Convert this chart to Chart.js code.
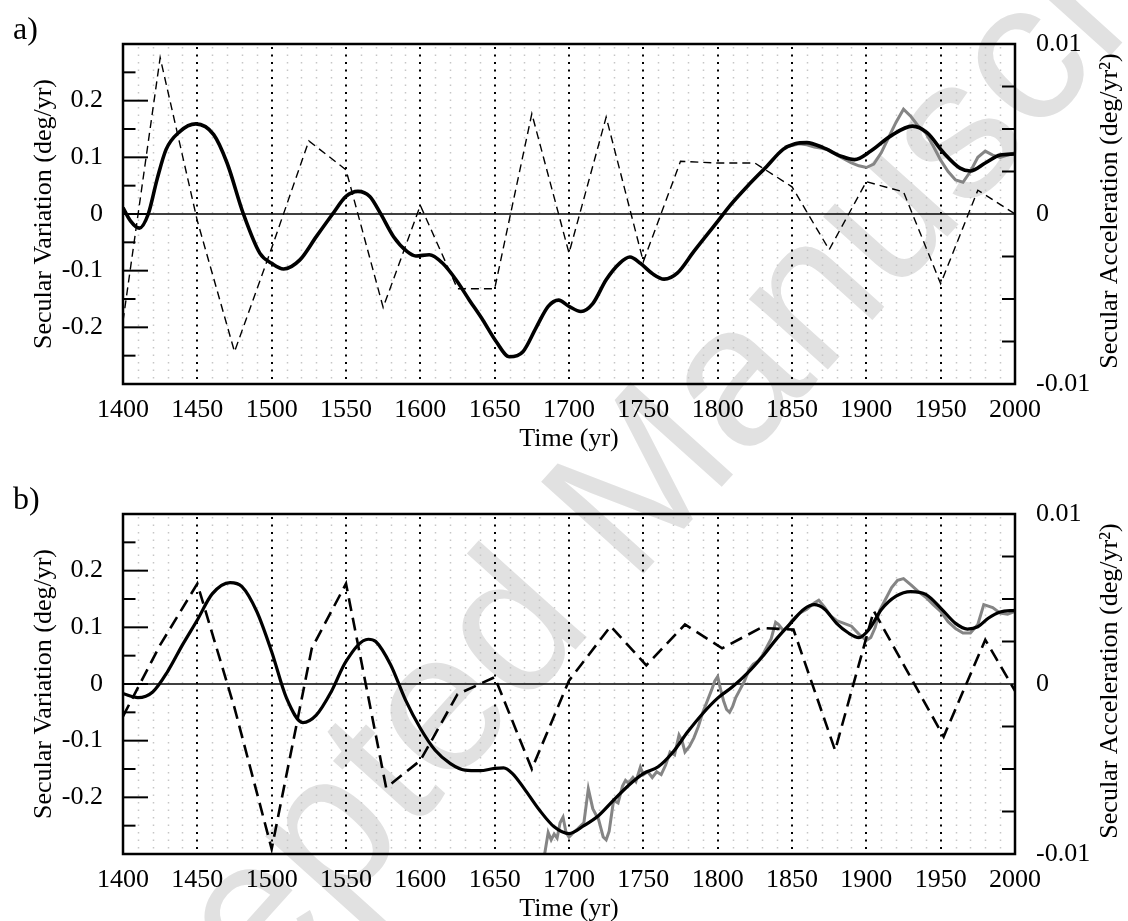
<!DOCTYPE html>
<html>
<head>
  <title>Secular Variation</title>
  <script src="https://cdn.jsdelivr.net/npm/chart.js"></script>
  <style>
    body{
        margin:0px;
        padding:0px;
        background-color:#ffffff;
        width:1128px;
        height:921px;
        overflow:hidden;
        position:relative;
    }
    #watermark{
        position:absolute;
        left:611px;
        top:507px;
        transform:translate(-50%,-50%) rotate(-48deg);
        font-family:'Liberation Sans', Arial, sans-serif;
        font-weight:normal;
        font-size:200px;
        line-height:1;
        color:#e1e1e1;
        white-space:nowrap;
        z-index:0;
    }
    canvas{
        position:absolute;
        left:0px;
        z-index:1;
    }
    #panelA{ top:0px; }
    #panelB{ top:470px; }
  </style>
</head>
<body>
  <div id="watermark">Accepted Manuscript</div>
  <canvas id="panelA" width="1128" height="470"></canvas>
  <canvas id="panelB" width="1128" height="470"></canvas>
  <script>
    // axis ticks
    var yearTicks = [1400,1450,1500,1550,1600,1650,1700,1750,1800,1850,1900,1950,2000];
    var svLabelTicks = [-0.2,-0.1,0,0.1,0.2];
    var svMinorTicks = [-0.25,-0.15,-0.05,0.05,0.15,0.25];
    var saTicks = [-0.0075,-0.005,-0.0025,0.0025,0.005,0.0075];

    // panel a) model secular variation (deg/yr)
    var aSvYears = [1400,1405,1411,1417,1423,1429,1438,1449,1461,1470,1481,1492,1500,1508,1519,1530,1541,1550,1558,1566,
                    1573,1582,1591,1597,1606,1615,1624,1633,1642,1651,1660,1669,1678,1686,1693,1700,1708,1716,1725,1734,
                    1741,1748,1756,1764,1773,1784,1800,1808,1820,1833,1844,1852,1860,1871,1883,1892,1903,1916,1931,1941,
                    1952,1963,1970,1980,1990,2000];
    var aSvValues = [0.011,-0.012,-0.025,0.0,0.062,0.114,0.145,0.159,0.140,0.090,0.0,-0.069,-0.087,-0.097,-0.081,-0.040,0.0,0.031,0.040,0.031,
                     0.002,-0.040,-0.066,-0.074,-0.072,-0.087,-0.116,-0.152,-0.187,-0.225,-0.252,-0.243,-0.200,-0.163,-0.152,-0.163,-0.172,-0.158,-0.116,-0.087,
                     -0.076,-0.087,-0.105,-0.115,-0.104,-0.066,-0.013,0.014,0.049,0.084,0.114,0.124,0.126,0.117,0.102,0.096,0.111,0.137,0.155,0.143,
                     0.108,0.081,0.076,0.090,0.104,0.106];
    // panel a) secular acceleration (deg/yr^2)
    var aSaYears = [1400,1425,1450,1475,1500,1525,1550,1575,1600,1625,1650,1675,1700,1725,1750,1775,1800,1825,1850,1875,1900,1925,1950,1975,2000];
    var aSaValues = [-0.0063,0.0092,-0.0004,-0.0081,-0.002,0.0043,0.0026,-0.0055,0.0005,-0.0044,-0.0044,0.0059,-0.0023,0.0057,-0.0028,
                     0.0031,0.003,0.003,0.0016,-0.0021,0.0019,0.0013,-0.0041,0.0014,0.0];
    // panel a) observed secular variation
    var aObsYears = [1845,1850,1855,1860,1865,1870,1875,1880,1885,1890,1895,1900,1905,1910,1915,1920,1925,1930,1935,1940,
                     1945,1950,1955,1960,1965,1970,1975,1980,1985,1990,1995,2000];
    var aObsValues = [0.118,0.121,0.124,0.122,0.118,0.116,0.113,0.104,0.097,0.090,0.085,0.082,0.088,0.108,0.135,0.162,0.185,0.172,0.155,0.143,
                      0.120,0.095,0.075,0.060,0.056,0.075,0.100,0.111,0.104,0.100,0.104,0.108];

    // panel b) model secular variation
    var bSvYears = [1400,1410,1420,1430,1440,1450,1460,1472,1480,1490,1500,1510,1521,1530,1540,1550,1565,1570,1580,1590,
                    1600,1610,1620,1630,1640,1650,1656,1662,1670,1680,1690,1700,1710,1720,1730,1740,1750,1760,1770,1780,
                    1790,1800,1810,1820,1830,1840,1850,1858,1865,1872,1880,1888,1895,1902,1910,1920,1930,1940,1950,1960,
                    1968,1975,1982,1990,2000];
    var bSvValues = [-0.017,-0.024,-0.014,0.022,0.069,0.113,0.159,0.179,0.172,0.128,0.057,-0.025,-0.068,-0.055,-0.014,0.040,0.079,0.075,0.034,-0.028,
                     -0.078,-0.117,-0.140,-0.152,-0.153,-0.149,-0.148,-0.158,-0.185,-0.222,-0.252,-0.264,-0.250,-0.232,-0.205,-0.179,-0.158,-0.146,-0.120,-0.084,
                     -0.052,-0.025,-0.005,0.019,0.048,0.081,0.110,0.132,0.140,0.132,0.107,0.090,0.082,0.097,0.131,0.155,0.163,0.158,0.134,0.107,
                     0.097,0.101,0.116,0.127,0.130];
    // panel b) secular acceleration
    var bSaYears = [1400,1425,1450,1475,1500,1527,1550,1577,1600,1625,1650,1675,1700,1728,1752,1778,1803,1829,1851,1879,1905,1952,1980,2000];
    var bSaValues = [-0.0019,0.0023,0.0059,-0.0014,-0.0097,0.0021,0.0059,-0.0061,-0.0045,-0.0006,0.0004,-0.005,0.0002,0.0034,0.0011,
                     0.0035,0.0021,0.0033,0.0032,-0.0039,0.0043,-0.0031,0.0026,-0.0004];
    // panel b) observed secular variation
    var bObsYears = [1683,1686,1688,1690,1692,1694,1696,1698,1700,1703,1706,1710,1713,1716,1720,1723,1725,1727,1730,1733,
                     1736,1738,1740,1743,1745,1748,1750,1753,1756,1759,1762,1765,1768,1771,1774,1776,1778,1781,1784,1787,
                     1790,1793,1796,1798,1800,1802,1804,1806,1808,1810,1812,1815,1818,1821,1824,1827,1830,1833,1836,1839,
                     1841,1844,1847,1850,1855,1860,1865,1868,1872,1876,1880,1885,1890,1895,1900,1903,1906,1909,1913,1917,
                     1921,1925,1930,1935,1940,1945,1950,1955,1960,1965,1970,1975,1979,1985,1990,1995,2000];
    var bObsValues = [-0.31,-0.262,-0.275,-0.265,-0.272,-0.245,-0.235,-0.262,-0.27,-0.262,-0.255,-0.245,-0.185,-0.22,-0.24,-0.27,-0.275,-0.26,-0.205,-0.21,
                      -0.18,-0.17,-0.175,-0.165,-0.172,-0.147,-0.16,-0.155,-0.165,-0.155,-0.16,-0.143,-0.12,-0.125,-0.09,-0.1,-0.12,-0.11,-0.095,-0.075,
                      -0.05,-0.03,-0.01,0.005,0.013,-0.01,-0.03,-0.045,-0.05,-0.04,-0.025,-0.01,0.005,0.025,0.035,0.04,0.05,0.065,0.08,0.109,
                      0.105,0.095,0.1,0.112,0.125,0.132,0.143,0.148,0.135,0.12,0.112,0.107,0.102,0.088,0.077,0.082,0.1,0.13,0.15,0.17,
                      0.183,0.186,0.175,0.163,0.153,0.14,0.128,0.11,0.098,0.09,0.09,0.105,0.14,0.135,0.125,0.123,0.128];

    var serif = "'Liberation Serif', 'Times New Roman', serif";
    Chart.defaults.font.family = serif;
    Chart.defaults.font.size = 26;
    Chart.defaults.color = '#000';

    function pts(xs, ys){
      return xs.map(function(x, i){ return {x: x, y: ys[i]}; });
    }

    // dotted grid, zero line, inward ticks, frame, right title and panel tag
    var panelDecor = {
      id: 'panelDecor',
      beforeDatasetsDraw: function(chart){
        var ctx = chart.ctx, a = chart.chartArea, x = chart.scales.x, y = chart.scales.y;
        ctx.save();
        ctx.strokeStyle = '#c6c6c6';
        ctx.lineWidth = 1.5;
        ctx.setLineDash([1.5, 6]);
        for (var yr = 1410; yr < 2000; yr += 10) {
          if (yr % 50 === 0) continue;
          var px = Math.round(x.getPixelForValue(yr)) + 0.5;
          ctx.beginPath(); ctx.moveTo(px, a.top + 3); ctx.lineTo(px, a.bottom); ctx.stroke();
        }
        ctx.strokeStyle = '#000';
        ctx.lineWidth = 2;
        ctx.setLineDash([2, 5.5]);
        yearTicks.forEach(function(t){
          if (t === 1400 || t === 2000) return;
          var px = Math.round(x.getPixelForValue(t));
          ctx.beginPath(); ctx.moveTo(px, a.top + 3); ctx.lineTo(px, a.bottom); ctx.stroke();
        });
        ctx.setLineDash([]);
        ctx.lineWidth = 1.5;
        var y0 = y.getPixelForValue(0);
        ctx.beginPath(); ctx.moveTo(a.left, y0); ctx.lineTo(a.right, y0); ctx.stroke();
        ctx.restore();
      },
      afterDatasetsDraw: function(chart, args, opts){
        var ctx = chart.ctx, a = chart.chartArea, y = chart.scales.y, y2 = chart.scales.y2;
        ctx.save();
        ctx.strokeStyle = '#000';
        ctx.lineWidth = 2;
        function tick(x0, py, len){
          ctx.beginPath(); ctx.moveTo(x0, py); ctx.lineTo(x0 + len, py); ctx.stroke();
        }
        svLabelTicks.forEach(function(v){ tick(a.left, y.getPixelForValue(v), 25); });
        svMinorTicks.forEach(function(v){ tick(a.left, y.getPixelForValue(v), 12.5); });
        saTicks.forEach(function(v){ tick(a.right, y2.getPixelForValue(v), -13); });
        ctx.lineWidth = 2.5;
        ctx.strokeRect(a.left, a.top, a.right - a.left, a.bottom - a.top);

        ctx.fillStyle = '#000';
        ctx.font = '26px ' + serif;
        ctx.save();
        ctx.translate(1110, (a.top + a.bottom) / 2 - 3);
        ctx.rotate(-Math.PI / 2);
        ctx.textAlign = 'center';
        ctx.textBaseline = 'middle';
        ctx.fillText('Secular Acceleration (deg/yr\u00B2)', 0, 0);
        ctx.restore();

        ctx.font = '32px ' + serif;
        ctx.textAlign = 'left';
        ctx.textBaseline = 'alphabetic';
        ctx.fillText(opts.tag, 13, 39);
        ctx.restore();
      }
    };

    function makePanel(id, tag, d){
      return new Chart(document.getElementById(id), {
        type: 'line',
        data: {
          datasets: [{
            label: 'Model SV',
            data: pts(d.svYears, d.svValues),
            yAxisID: 'y',
            borderColor: '#000',
            borderWidth: d.svWidth,
            cubicInterpolationMode: 'monotone',
            pointRadius: 0,
            clip: 0
          }, {
            label: 'SA',
            data: pts(d.saYears, d.saValues),
            yAxisID: 'y2',
            borderColor: '#000',
            borderWidth: d.saWidth,
            borderDash: d.saDash,
            tension: 0,
            pointRadius: 0,
            clip: 0
          }, {
            label: 'Observed SV',
            data: pts(d.obsYears, d.obsValues),
            yAxisID: 'y',
            borderColor: '#858585',
            borderWidth: 3,
            tension: 0,
            pointRadius: 0,
            clip: 0
          }]
        },
        options: {
          responsive: false,
          animation: false,
          layout: { padding: { top: 44, left: 0, right: 0, bottom: 0 } },
          plugins: {
            legend: { display: false },
            tooltip: { enabled: false },
            panelDecor: { tag: tag }
          },
          scales: {
            x: {
              type: 'linear', min: 1400, max: 2000,
              grid: { display: false }, border: { display: false },
              ticks: {
                stepSize: 50, autoSkip: false, maxRotation: 0, padding: 3,
                callback: function(v){ return yearTicks.indexOf(v) >= 0 ? String(v) : ''; }
              },
              title: { display: true, text: 'Time (yr)', padding: { top: 0, bottom: 15 } },
              afterFit: function(s){ s.height = 86; }
            },
            y: {
              position: 'left', min: -0.3, max: 0.3,
              grid: { display: false }, border: { display: false },
              ticks: {
                stepSize: 0.1, padding: 12,
                callback: function(v){
                  var r = Math.round(v * 10) / 10;
                  return svLabelTicks.indexOf(r) >= 0 ? String(r) : '';
                }
              },
              title: { display: true, text: 'Secular Variation (deg/yr)', padding: { top: 29, bottom: 0 } },
              afterFit: function(s){ s.width = 123; }
            },
            y2: {
              position: 'right', min: -0.01, max: 0.01,
              grid: { display: false }, border: { display: false },
              ticks: {
                stepSize: 0.01, padding: 13,
                callback: function(v){ return String(Math.round(v * 100) / 100); }
              },
              afterFit: function(s){ s.width = 113; }
            }
          }
        },
        plugins: [panelDecor]
      });
    }

    makePanel('panelA', 'a)', {
      svYears: aSvYears, svValues: aSvValues, svWidth: 3.6,
      saYears: aSaYears, saValues: aSaValues, saWidth: 1.4, saDash: [8, 5],
      obsYears: aObsYears, obsValues: aObsValues
    });
    makePanel('panelB', 'b)', {
      svYears: bSvYears, svValues: bSvValues, svWidth: 3.2,
      saYears: bSaYears, saValues: bSaValues, saWidth: 2.6, saDash: [13, 7],
      obsYears: bObsYears, obsValues: bObsValues
    });
  </script>
</body>
</html>
